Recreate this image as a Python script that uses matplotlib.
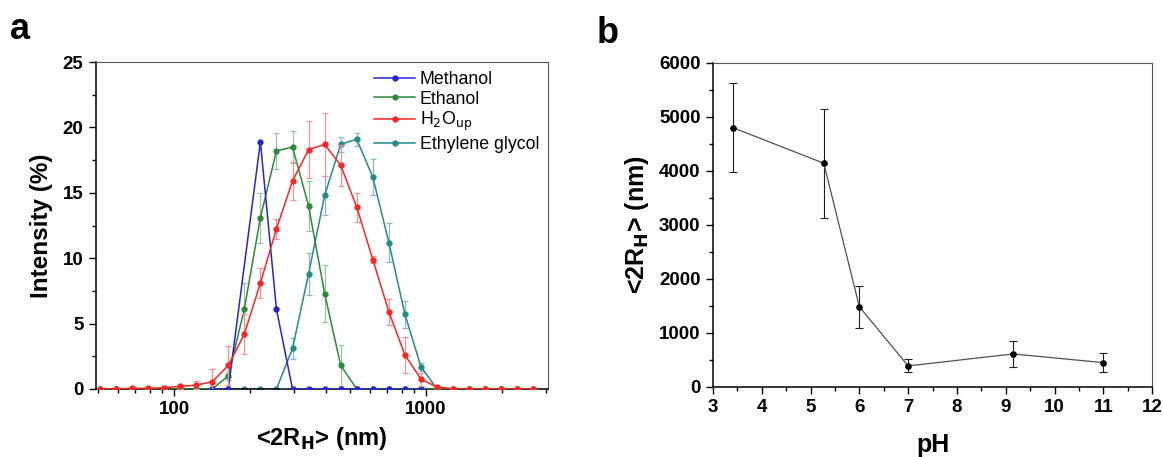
import numpy as np
import matplotlib.pyplot as plt
from matplotlib.ticker import AutoMinorLocator, MultipleLocator, FixedLocator, NullFormatter

plt.rcParams['font.family'] = ['Liberation Sans', 'DejaVu Sans']

# panel a: DLS size bins (nm) and intensity (%)
size_nm = [50.75, 58.77, 68.06, 78.82, 91.28, 105.7, 122.4, 141.8, 164.2, 190.1,
           220.2, 255.0, 295.3, 342.0, 396.1, 458.7, 531.2, 615.1, 712.4, 825.0,
           955.4, 1106, 1281, 1484, 1718, 1990, 2305, 2669]
# methanol has no point at the 190 nm bin
size_me = [141.8, 164.2, 220.2, 255.0, 295.3, 342.0, 396.1, 458.7, 531.2, 615.1,
           712.4, 825.0, 955.4]
methanol = [0, 0, 18.9, 6.1, 0, 0, 0, 0, 0, 0,
            0, 0, 0]
ethanol = [0, 0, 0, 0, 0, 0, 0, 0, 1.0, 6.1,
           13.1, 18.2, 18.5, 14.0, 7.3, 1.8, 0, 0, 0, 0,
           0, 0, 0, 0, 0, 0, 0, 0]
ethanol_err = [0, 0, 0, 0, 0, 0, 0, 0, 0.3, 2.0,
               1.9, 1.4, 1.2, 1.9, 2.2, 1.6, 0, 0, 0, 0,
               0, 0, 0, 0, 0, 0, 0, 0]
water = [0.02, 0.03, 0.04, 0.06, 0.1, 0.2, 0.3, 0.55, 1.8, 4.2,
         8.1, 12.25, 15.9, 18.3, 18.7, 17.1, 13.9, 9.9, 5.9, 2.6,
         0.75, 0.15, 0.02, 0.02, 0.02, 0.02, 0.02, 0.02]
water_err = [0, 0, 0, 0.05, 0.1, 0.2, 0.3, 1.0, 1.5, 1.5,
             1.15, 0.75, 1.45, 2.2, 2.4, 1.55, 1.1, 0.3, 1.0, 1.4,
             0.5, 0.1, 0, 0, 0, 0, 0, 0]
glycol = [0, 0, 0, 0, 0, 0, 0, 0, 0, 0,
          0, 0, 3.1, 8.8, 14.8, 18.7, 19.1, 16.2, 11.2, 5.7,
          1.7, 0, 0, 0, 0, 0, 0, 0]
glycol_err = [0, 0, 0, 0, 0, 0, 0, 0, 0, 0,
              0, 0, 0.8, 1.6, 1.5, 0.6, 0.5, 1.35, 1.5, 1.0,
              0.3, 0, 0, 0, 0, 0, 0, 0]

# panel b: size vs pH
ph = [3.4, 5.27, 6.0, 7.0, 9.15, 11.0]
size_ph = [4805, 4143, 1484, 390, 612, 451]
size_ph_err = [830, 1010, 385, 120, 245, 175]

fig = plt.figure(figsize=(11.63, 4.57), dpi=100)
ax1 = fig.add_axes([0.0825, 0.1488, 0.3887, 0.7155])
ax2 = fig.add_axes([0.6131, 0.1532, 0.3775, 0.709])

c_me = '#2424d8'
c_et = '#2a8a3a'
c_w = '#ff2424'
c_eg = '#238a8a'

ax1.errorbar(size_nm, glycol, yerr=glycol_err, color=c_eg, ecolor='#8ab8b8', lw=1.1,
             marker='o', ms=3.5, capsize=2.5, elinewidth=0.9, capthick=0.9, zorder=2)
ax1.errorbar(size_nm, ethanol, yerr=ethanol_err, color=c_et, ecolor='#9cc09c', lw=1.1,
             marker='o', ms=3.5, capsize=2.5, elinewidth=0.9, capthick=0.9, zorder=3)
ax1.plot(size_me, methanol, color=c_me, lw=1.1, marker='o', ms=3.5, zorder=4)
ax1.errorbar(size_nm, water, yerr=water_err, color=c_w, ecolor='#f59090', lw=1.1,
             marker='o', ms=3.5, capsize=2.5, elinewidth=0.9, capthick=0.9, zorder=5)

h_me, = ax1.plot([], [], color=c_me, lw=1.1, marker='o', ms=3.5)
h_et, = ax1.plot([], [], color=c_et, lw=1.1, marker='o', ms=3.5)
h_w, = ax1.plot([], [], color=c_w, lw=1.1, marker='o', ms=3.5)
h_eg, = ax1.plot([], [], color=c_eg, lw=1.1, marker='o', ms=3.5)
ax1.legend([h_me, h_et, h_w, h_eg],
           ['Methanol', 'Ethanol', 'H$_2$O$_\\mathrm{up}$', 'Ethylene glycol'],
           loc='upper right', frameon=False, fontsize=12.8, handlelength=2.3,
           handletextpad=0.25, labelspacing=0.15, borderaxespad=0.1,
           bbox_to_anchor=(1.0, 1.0))

ax1.set_xscale('log')
ax1.set_xlim(49, 3050)
ax1.set_ylim(0, 25)
ax1.xaxis.set_major_locator(FixedLocator([100, 1000]))
ax1.xaxis.set_minor_locator(FixedLocator(
    [50, 60, 70, 80, 90, 200, 300, 400, 500, 600, 700, 800, 900, 2000, 3000]))
ax1.xaxis.set_minor_formatter(NullFormatter())
ax1.set_xticklabels(['100', '1000'])
ax1.yaxis.set_major_locator(MultipleLocator(5))
ax1.yaxis.set_minor_locator(AutoMinorLocator(2))
ax1.set_ylabel('Intensity (%)', fontsize=17.5, fontweight='bold', labelpad=7)
ax1.set_xlabel('<2R$_\\mathbf{H}$> (nm)', fontsize=17, fontweight='bold', labelpad=5)

ax2.errorbar(ph, size_ph, yerr=size_ph_err, color='#505050', ecolor='#202020', lw=0.9,
             marker='o', ms=3.8, mfc='black', mec='black', capsize=3, elinewidth=0.8,
             capthick=0.8)
ax2.set_xlim(3, 12)
ax2.set_ylim(0, 6000)
ax2.xaxis.set_major_locator(MultipleLocator(1))
ax2.xaxis.set_minor_locator(MultipleLocator(0.5))
ax2.yaxis.set_major_locator(MultipleLocator(1000))
ax2.yaxis.set_minor_locator(MultipleLocator(500))
ax2.set_ylabel('<2R$_\\mathbf{H}$> (nm)', fontsize=18, fontweight='bold', labelpad=6)
ax2.set_xlabel('pH', fontsize=18, fontweight='bold', labelpad=12)

for ax in (ax1, ax2):
    ax.tick_params(which='major', direction='out', length=5, width=1, labelsize=13.5,
                   pad=4)
    ax.tick_params(which='minor', direction='out', length=3, width=1)
    for lab in ax.get_xticklabels() + ax.get_yticklabels():
        lab.set_fontweight('bold')
    ax.spines['left'].set_linewidth(1.1)
    ax.spines['bottom'].set_linewidth(1.1)
    ax.spines['top'].set_color('#555555')
    ax.spines['right'].set_color('#555555')

fig.text(0.009, 0.915, 'a', fontsize=26, fontweight='bold')
fig.text(0.513, 0.905, 'b', fontsize=26, fontweight='bold')

fig.savefig('out.png', dpi=100)
